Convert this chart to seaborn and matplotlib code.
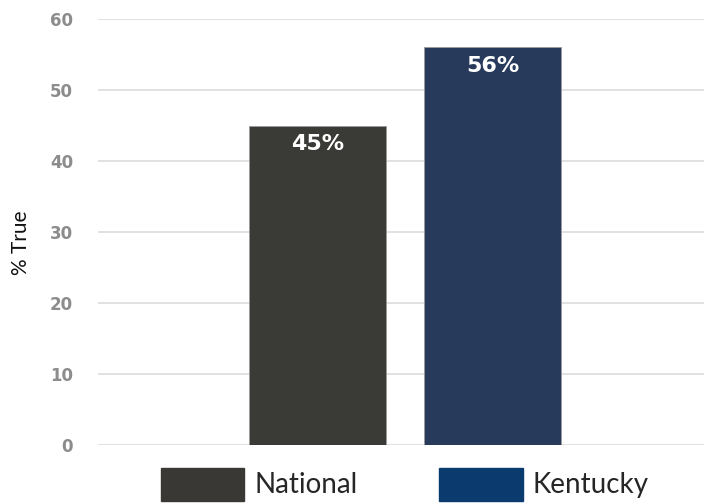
import matplotlib
matplotlib.use("Agg")
import matplotlib.pyplot as plt
import matplotlib.patches as mpatches
import pandas as pd
import seaborn as sns

# data
groups = ["National", "Kentucky"]
pct_true = [45, 56]
bar_colors = ["#3b3a36", "#203864"]
legend_colors = ["#3a3835", "#0b3a6e"]
y_ticks = [0, 10, 20, 30, 40, 50, 60]

df = pd.DataFrame({"group": groups, "pct": pct_true})

sns.set_theme(style="white")
plt.rcParams["font.family"] = ["Lato", "DejaVu Sans"]

fig = plt.figure(figsize=(7.04, 5.03), dpi=100)
ax = fig.add_axes([98 / 704, 58 / 503, 606 / 704, 426 / 503])

sns.barplot(data=df, x="group", y="pct", hue="group", palette=bar_colors,
            width=0.783, edgecolor="#9a9a9a", linewidth=0.6, legend=False, ax=ax)

# value labels at the top inside each bar
for i, v in enumerate(pct_true):
    ax.text(i, v - 2.6, f"{v}%", ha="center", va="center", color="white",
            fontsize=16, fontweight="heavy", family=["DejaVu Sans"])

ax.set_ylim(0, 60)
ax.set_xlim(-1.254, 2.209)
ax.set_yticks(y_ticks)
ax.set_yticklabels([str(t) for t in y_ticks], color="#8c8c8c", fontsize=12,
                   fontweight="bold", family=["DejaVu Sans"])
ax.tick_params(axis="y", length=0, pad=18)
ax.set_xticks([])
ax.set_xlabel("")
ax.set_ylabel("% True", fontsize=15, color="#111111")
ax.yaxis.set_label_coords(-0.11, 0.474)

ax.grid(axis="y", color="#dcdcdc", linewidth=1.2)
ax.set_axisbelow(True)
for s in ax.spines.values():
    s.set_visible(False)

handles = [mpatches.Patch(color=c, label=g) for g, c in zip(groups, legend_colors)]
fig.legend(handles=handles, loc="lower left", bbox_to_anchor=(0.193, -0.045),
           ncol=2, frameon=False, fontsize=20, handlelength=3.0, handleheight=1.45,
           handletextpad=0.36, columnspacing=2.95)

fig.savefig("out.png", dpi=100)
